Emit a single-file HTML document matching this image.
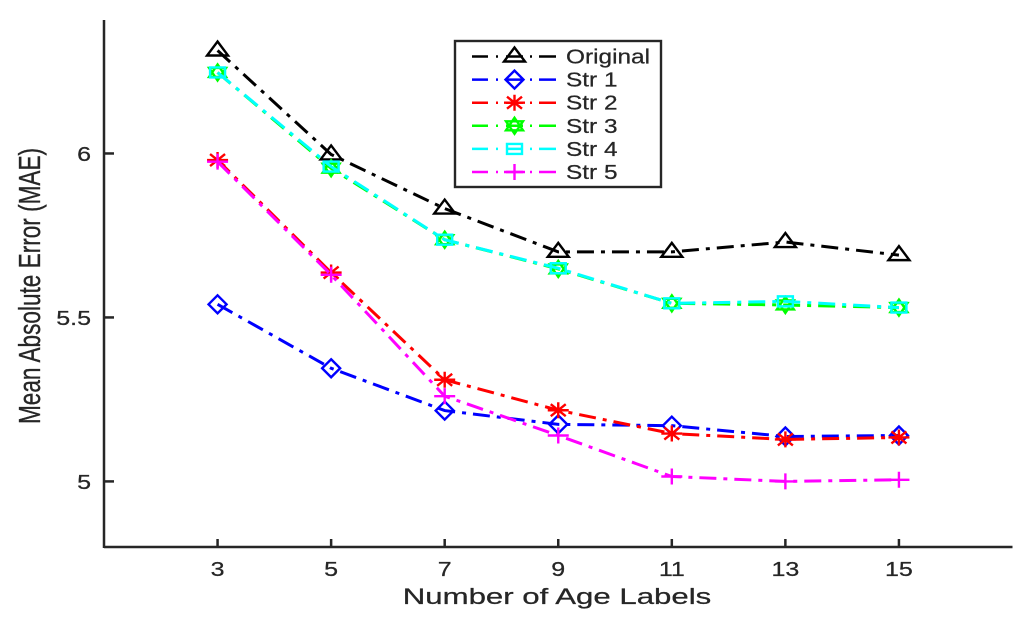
<!DOCTYPE html>
<html>
<head>
<meta charset="utf-8">
<style>
html,body{margin:0;padding:0;background:#fff;width:1024px;height:621px;overflow:hidden}
svg{display:block;filter:blur(0.35px)}
text{font-family:"Liberation Sans",sans-serif;fill:#262626;stroke:#262626;stroke-width:0.25px}
</style>
</head>
<body>
<svg id="chart" width="1024" height="621" viewBox="0 0 1024 621" xmlns="http://www.w3.org/2000/svg">
  <rect x="0" y="0" width="1024" height="621" fill="#fff"/>
  <g id="axes"></g>
  <g id="series"></g>
  <g id="legend"></g>
</svg>
<script>
const categories = [3, 5, 7, 9, 11, 13, 15];
const xTickLabels = ['3', '5', '7', '9', '11', '13', '15'];
const yTicks = [5, 5.5, 6];
const yTickLabels = ['5', '5.5', '6'];
const xDomain = [1, 17];
const yDomain = [4.8, 6.407];

const seriesNames = ['Original', 'Str 1', 'Str 2', 'Str 3', 'Str 4', 'Str 5'];
const original = [6.314, 5.997, 5.832, 5.70, 5.70, 5.73, 5.69];
const str1 = [5.54, 5.345, 5.216, 5.174, 5.17, 5.137, 5.14];
const str2 = [5.98, 5.637, 5.31, 5.217, 5.146, 5.128, 5.134];
const str3 = [6.247, 5.955, 5.737, 5.648, 5.543, 5.538, 5.53];
const str4 = [6.247, 5.96, 5.737, 5.65, 5.543, 5.549, 5.53];
const str5 = [5.975, 5.63, 5.26, 5.14, 5.015, 5.0, 5.005];
const seriesValues = [original, str1, str2, str3, str4, str5];
const seriesColors = ['#000000', '#0000ff', '#ff0000', '#00ff00', '#00ffff', '#ff00ff'];
const seriesMarkers = ['triangle', 'diamond', 'asterisk', 'hexagram', 'square', 'plus'];

const NS = 'http://www.w3.org/2000/svg';
const plot = {left: 104, right: 1012.5, top: 20, bottom: 547};
const xScale = function (v) {
  return plot.left + (v - xDomain[0]) / (xDomain[1] - xDomain[0]) * (plot.right - plot.left);
};
const yScale = function (v) {
  return plot.bottom - (v - yDomain[0]) / (yDomain[1] - yDomain[0]) * (plot.bottom - plot.top);
};
function make(tag, attrs, parent) {
  const el = document.createElementNS(NS, tag);
  for (const k in attrs) el.setAttribute(k, attrs[k]);
  parent.appendChild(el);
  return el;
}
function stretchedText(str, x, y, size, anchor, parent) {
  const t = make('text', {
    transform: 'translate(' + x + ',' + y + ') scale(1.22,1)',
    'font-size': size,
    'text-anchor': anchor
  }, parent);
  t.textContent = str;
  return t;
}
function markerPath(kind, x, y) {
  const p = function (dx, dy) { return (x + dx) + ' ' + (y + dy); };
  if (kind === 'triangle') return 'M' + p(0, -9) + 'L' + p(10.5, 5) + 'L' + p(-10.5, 5) + 'Z';
  if (kind === 'diamond') return 'M' + p(0, -9) + 'L' + p(9, 0) + 'L' + p(0, 9) + 'L' + p(-9, 0) + 'Z';
  if (kind === 'asterisk') return 'M' + p(-10.5, 0) + 'L' + p(10.5, 0) + 'M' + p(-7.5, -6) + 'L' + p(7.5, 6) + 'M' + p(-7.5, 6) + 'L' + p(7.5, -6) + 'M' + p(0, -8) + 'L' + p(0, 8);
  if (kind === 'hexagram') return 'M' + p(0, -8) + 'L' + p(8.5, 4.5) + 'L' + p(-8.5, 4.5) + 'Z' + 'M' + p(0, 8) + 'L' + p(8.5, -4.5) + 'L' + p(-8.5, -4.5) + 'Z';
  if (kind === 'square') return 'M' + p(-7.5, -5) + 'L' + p(7.5, -5) + 'L' + p(7.5, 5) + 'L' + p(-7.5, 5) + 'Z';
  return 'M' + p(-10.5, 0) + 'L' + p(10.5, 0) + 'M' + p(0, -8) + 'L' + p(0, 8);
}

/* axes */
const axes = document.getElementById('axes');
const axisColor = '#262626';
const yAxis = make('line', {x1: plot.left, y1: plot.top, x2: plot.left, y2: plot.bottom + 1, stroke: axisColor, 'stroke-width': 2.5}, axes);


const xAxis = make('line', {x1: plot.left, y1: plot.bottom, x2: plot.right, y2: plot.bottom, stroke: axisColor, 'stroke-width': 2.5}, axes);



categories.forEach(function (c, i) {
  const x = xScale(c);
  const tick = make('line', {x1: x, y1: plot.bottom, x2: x, y2: plot.bottom - 8, stroke: axisColor, 'stroke-width': 2.5}, axes);
  
  
  const label = stretchedText(xTickLabels[i], x, 576, 20.5, 'middle', axes);
  
  
});
yTicks.forEach(function (v, i) {
  const y = yScale(v);
  const tick = make('line', {x1: plot.left, y1: y, x2: plot.left + 10, y2: y, stroke: axisColor, 'stroke-width': 2.5}, axes);
  
  
  const label = stretchedText(yTickLabels[i], 91, y + 7.5, 20.5, 'end', axes);
  
  
});
const xTitle = make('text', {transform: 'translate(557,604) scale(1.38,1)', 'font-size': 22.6, 'text-anchor': 'middle'}, axes);
xTitle.textContent = 'Number of Age Labels';


const yTitle = make('text', {transform: 'translate(40,286) scale(1.35,1) rotate(-90)', 'font-size': 22.6, 'text-anchor': 'middle'}, axes);
yTitle.textContent = 'Mean Absolute Error (MAE)';



/* series */
const seriesLayer = document.getElementById('series');
seriesValues.forEach(function (vals, s) {
  const g = make('g', {}, seriesLayer);
  
  
  const pts = vals.map(function (v, i) { return xScale(categories[i]) + ',' + yScale(v); }).join(' ');
  const line = make('polyline', {
    points: pts, fill: 'none', stroke: seriesColors[s], 'stroke-width': 3,
    'stroke-dasharray': '17 7 4 7'
  }, g);
  
  
  vals.forEach(function (v, i) {
    const m = make('path', {
      d: markerPath(seriesMarkers[s], xScale(categories[i]), yScale(v)),
      fill: 'none', stroke: seriesColors[s], 'stroke-width': 2.4
    }, g);
    
    
  });
});

/* legend */
const legend = document.getElementById('legend');
const box = make('rect', {x: 455, y: 41, width: 206, height: 146, fill: '#fff', stroke: axisColor, 'stroke-width': 2.4}, legend);


seriesNames.forEach(function (name, s) {
  const y = 56.5 + s * 23.1;
  const g = make('g', {}, legend);
  
  
  const sample = make('line', {
    x1: 472, y1: y, x2: 556, y2: y, stroke: seriesColors[s], 'stroke-width': 2.5,
    'stroke-dasharray': '16 8 2 8 17 7 2 7 17'
  }, g);
  
  
  const mark = make('path', {
    d: markerPath(seriesMarkers[s], 514.5, y),
    fill: 'none', stroke: seriesColors[s], 'stroke-width': 2.4
  }, g);
  
  
  const label = stretchedText(name, 566, y + 7, 20, 'start', g);
  
  
});
</script>
</body>
</html>
